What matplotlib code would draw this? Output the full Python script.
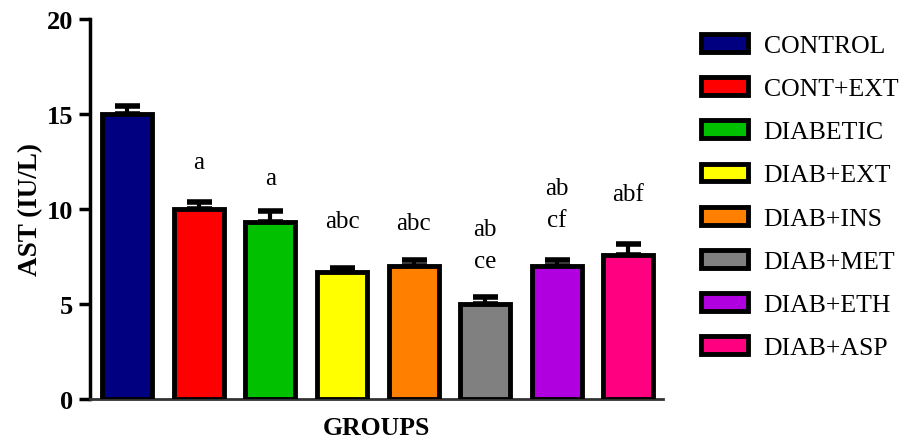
import matplotlib
matplotlib.use("Agg")
import matplotlib.pyplot as plt
from matplotlib.patches import Patch

# Mean AST per group with the upper SEM
groups = ["CONTROL", "CONT+EXT", "DIABETIC", "DIAB+EXT",
          "DIAB+INS", "DIAB+MET", "DIAB+ETH", "DIAB+ASP"]
ast_mean = [15.0, 10.0, 9.3, 6.7, 7.0, 5.0, 7.0, 7.6]
ast_sem = [0.4, 0.35, 0.6, 0.2, 0.3, 0.35, 0.3, 0.55]
sig_labels = ["", "a", "a", "abc", "abc", "ab\nce", "ab\ncf", "abf"]
y_ticks = [0, 5, 10, 15, 20]

# Styling
bar_colors = ["#000080", "#ff0000", "#00c000", "#ffff00",
              "#ff8000", "#808080", "#b000e0", "#ff0080"]
label_pad_pt = [0, 21, 16, 26, 19, 18, 21, 28]

plt.rcParams["font.family"] = ["Liberation Serif", "DejaVu Serif"]

fig = plt.figure(figsize=(9.06, 4.39), dpi=100)
ax = fig.add_axes([0.0993, 0.0888, 0.633, 0.866])

x = list(range(len(groups)))
ax.bar(x, ast_mean, width=0.7, color=bar_colors, edgecolor="black",
       linewidth=3.5, zorder=3)
ax.errorbar(x, ast_mean, yerr=[[0] * len(x), ast_sem], fmt="none",
            ecolor="black", elinewidth=3, capsize=9, capthick=4, zorder=2)

for xi, m, s, lab, pad in zip(x, ast_mean, ast_sem, sig_labels, label_pad_pt):
    if lab:
        ax.annotate(lab, xy=(xi, m + s), xytext=(0, pad),
                    textcoords="offset points", ha="center", va="bottom",
                    fontsize=18, linespacing=1.6)

ax.set_xlim(-0.52, 7.49)
ax.set_ylim(0, 20)
ax.set_yticks(y_ticks)
ax.set_yticklabels([str(t) for t in y_ticks], fontsize=19, fontweight="bold")
ax.set_xticks([])
ax.tick_params(axis="y", direction="out", length=8, width=2.5, pad=4)
for side in ("top", "right"):
    ax.spines[side].set_visible(False)
ax.spines["left"].set_linewidth(2.5)
ax.spines["bottom"].set_linewidth(2)
ax.spines["bottom"].set_color("#333333")

ax.set_ylabel("AST (IU/L)", fontsize=19.5, fontweight="bold", labelpad=3)
ax.set_xlabel("GROUPS", fontsize=18.5, fontweight="bold", labelpad=12)

handles = [Patch(facecolor=c, edgecolor="black", linewidth=3.5) for c in bar_colors]
fig.legend(handles, groups, loc="upper left", bbox_to_anchor=(0.748, 0.972),
           frameon=False, fontsize=18.5, handlelength=1.85, handleheight=0.7,
           labelspacing=0.78, handletextpad=0.6)

fig.savefig("out.png", dpi=100)
